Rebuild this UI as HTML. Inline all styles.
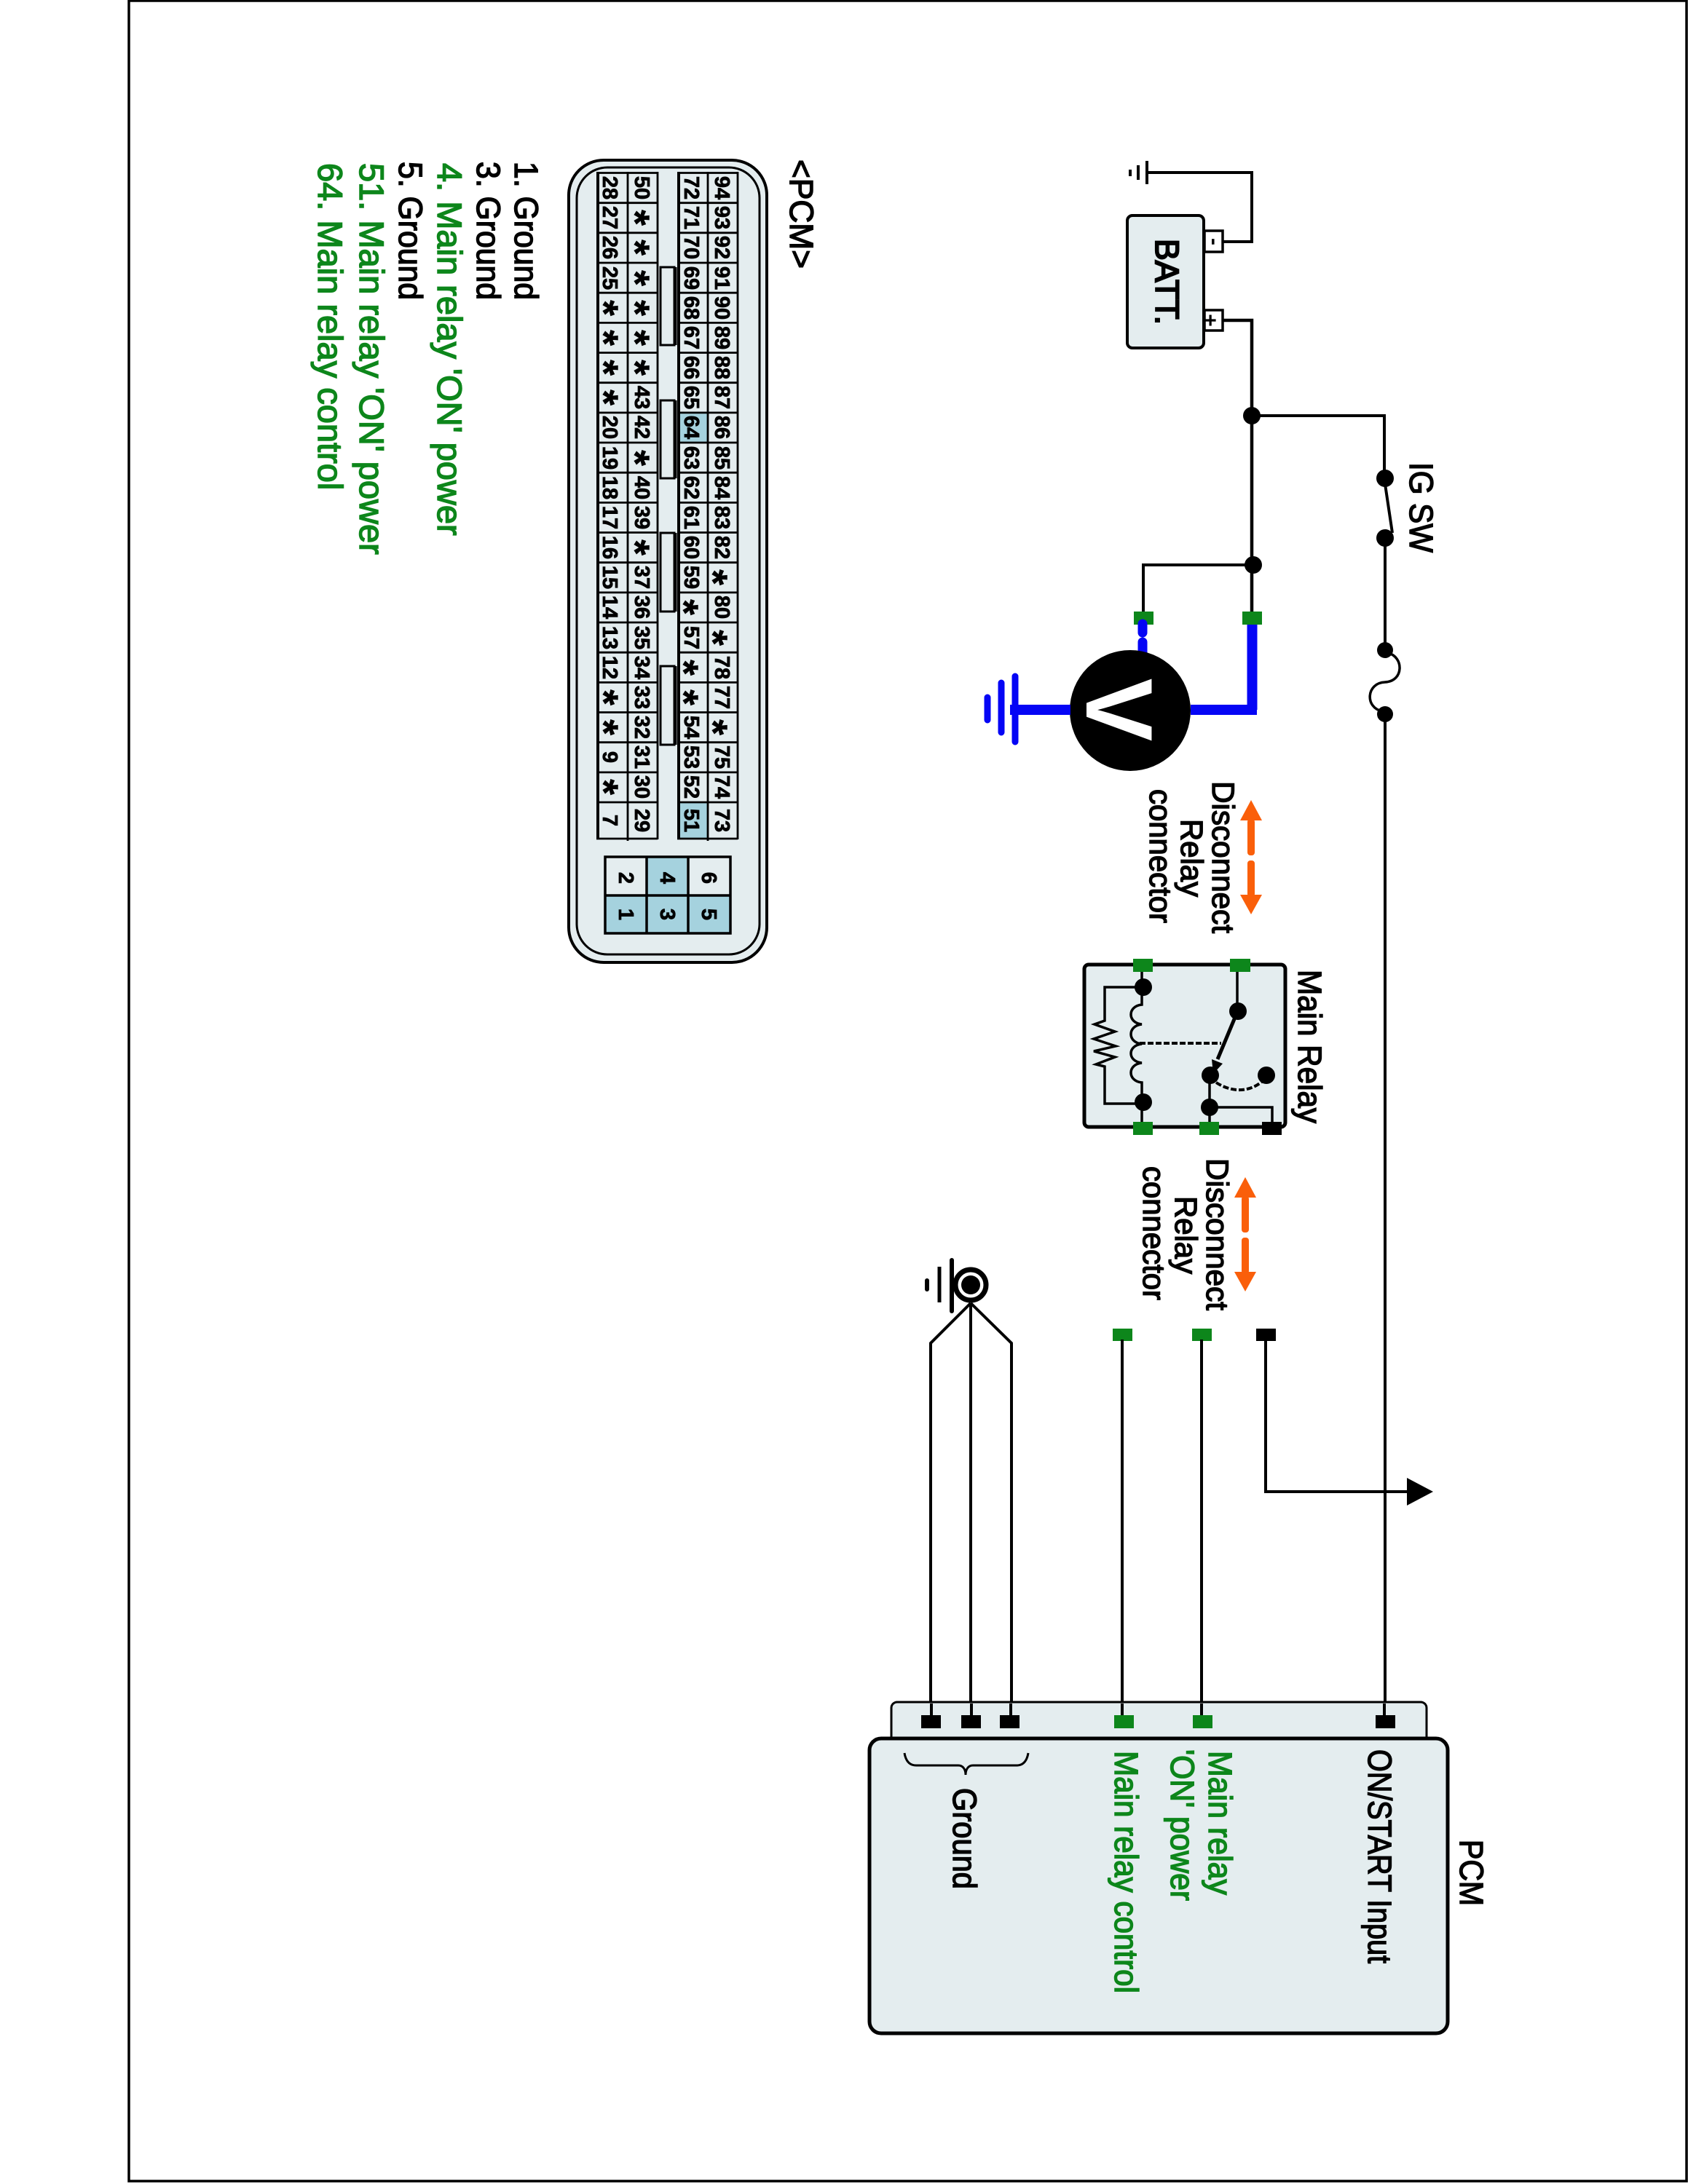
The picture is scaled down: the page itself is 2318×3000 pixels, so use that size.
<!DOCTYPE html>
<html>
<head>
<meta charset="utf-8">
<style>
html,body{margin:0;padding:0;background:#fff}
svg{display:block}
text{font-family:"Liberation Sans",Arial,sans-serif}
.b{fill:#000;stroke:#000;stroke-width:1.5}
.g{fill:#0d861b;stroke:#0d861b;stroke-width:1.5}
.p text{font-size:29px;font-weight:bold;text-anchor:middle;fill:#000;stroke:#000;stroke-width:.8}
.p text.s{font-size:56px;stroke-width:.5}
</style>
</head>
<body>
<svg xmlns="http://www.w3.org/2000/svg" width="2318" height="3000" viewBox="0 0 2318 3000">
<rect width="2318" height="3000" fill="#fff"/>
<path d="M177 1H2316V2996H177Z" fill="none" stroke="#000" stroke-width="3.5"/>

<!-- connector shell -->
<rect x="781" y="220" width="272" height="1102" rx="48" fill="#e4edef" stroke="#000" stroke-width="4"/>
<rect x="792" y="230" width="251" height="1081" rx="42" fill="#e4edef" stroke="#000" stroke-width="3"/>
<rect x="932" y="567" width="39" height="41" fill="#a5d2de"/>
<rect x="932" y="1102" width="39" height="50" fill="#a5d2de"/>
<path fill="none" stroke="#000" stroke-width="2.8" d="M819 237.5H903M930 237.5H1013M819 278.7H903M930 278.7H1013M819 319.8H903M930 319.8H1013M819 361H903M930 361H1013M819 402.2H903M930 402.2H1013M819 443.4H903M930 443.4H1013M819 484.5H903M930 484.5H1013M819 525.7H903M930 525.7H1013M819 566.9H903M930 566.9H1013M819 608H903M930 608H1013M819 649.2H903M930 649.2H1013M819 690.4H903M930 690.4H1013M819 731.5H903M930 731.5H1013M819 772.7H903M930 772.7H1013M819 813.9H903M930 813.9H1013M819 855H903M930 855H1013M819 896.2H903M930 896.2H1013M819 937.4H903M930 937.4H1013M819 978.5H903M930 978.5H1013M819 1019.7H903M930 1019.7H1013M819 1060.9H903M930 1060.9H1013M819 1102H903M930 1102H1013M819 1152H903M930 1152H1013"/>
<path fill="none" stroke="#000" stroke-width="2.8" d="M862 236V1155M903 236V1153M972 236V1155M1013 236V1153"/>
<path fill="none" stroke="#000" stroke-width="4" d="M821 236V1153M932 236V1153"/>
<!-- keys -->
<g fill="#e4edef" stroke="#000" stroke-width="3">
<rect x="907" y="367" width="19" height="107"/><rect x="907" y="550" width="19" height="107"/><rect x="907" y="732" width="19" height="108"/><rect x="907" y="915" width="19" height="108"/>
</g>
<path stroke="#000" stroke-width="5" d="M927 367V474M927 550V657M927 732V840M927 915V1023"/>
<!-- 6 pin -->
<rect x="887" y="1177" width="56" height="105" fill="#a5d2de"/>
<rect x="830" y="1230" width="173" height="52" fill="#a5d2de"/>
<path fill="none" stroke="#000" stroke-width="3.5" d="M831 1177H1003V1282H831ZM830 1230H1003M888 1177V1282M945 1177V1282"/>

<!-- battery -->
<rect x="1548" y="296" width="105" height="182" rx="7" fill="#e4edef" stroke="#000" stroke-width="4"/>
<rect x="1654" y="317" width="25" height="29" fill="#fff" stroke="#000" stroke-width="3.5"/>
<rect x="1654" y="426" width="25" height="28" fill="#fff" stroke="#000" stroke-width="3.5"/>
<path fill="none" stroke="#000" stroke-width="4" d="M1679 332H1719V237H1575"/>
<path fill="none" stroke="#000" stroke-width="4" d="M1552 233V242M1563 227V247M1575 221V253"/>
<path fill="none" stroke="#000" stroke-width="4.5" d="M1679 440H1719V840"/>
<path fill="none" stroke="#000" stroke-width="4" d="M1719 571H1901V657M1721 776H1570V840"/>
<circle cx="1719" cy="571" r="12"/><circle cx="1721" cy="776" r="12"/>
<!-- IG switch -->
<circle cx="1902" cy="657" r="12"/><circle cx="1902" cy="739" r="12"/>
<path fill="none" stroke="#000" stroke-width="4" d="M1902 665L1912 732"/>
<path fill="none" stroke="#000" stroke-width="4" d="M1902 739V893M1902 981V2360"/>
<!-- fuse -->
<circle cx="1902" cy="893" r="11"/><circle cx="1902" cy="981" r="11"/>
<path fill="none" stroke="#000" stroke-width="3.5" d="M1906 897C1928 902 1928 936 1902 937C1876 938 1874 972 1898 977"/>

<!-- meter -->
<rect x="1557" y="840" width="27" height="18" fill="#0d861b"/>
<rect x="1706" y="840" width="27" height="18" fill="#0d861b"/>
<path fill="none" stroke="#0505f5" stroke-width="13" stroke-linecap="round" d="M1569 857V869M1569 882V897"/>
<circle cx="1552" cy="976" r="83"/>
<path fill="none" stroke="#0505f5" stroke-width="14" d="M1719.5 858V975M1635 975H1726M1387 975H1470"/>
<path fill="none" stroke="#0505f5" stroke-linecap="round" stroke-width="9" d="M1394 929V1019M1375 938V1006M1356 958V989"/>

<!-- disconnect arrows -->
<g fill="#fa5f0a">
<path d="M1718 1099L1733 1127H1703Z"/><rect x="1713" y="1125" width="10" height="50" rx="4"/>
<rect x="1713" y="1182" width="10" height="50" rx="4"/><path d="M1703 1229H1733L1718 1256Z"/>
</g>
<g fill="#fa5f0a" transform="translate(-8,518)">
<path d="M1718 1099L1733 1127H1703Z"/><rect x="1713" y="1125" width="10" height="50" rx="4"/>
<rect x="1713" y="1182" width="10" height="50" rx="4"/><path d="M1703 1229H1733L1718 1256Z"/>
</g>

<!-- relay -->
<rect x="1489" y="1325" width="276" height="223" rx="6" fill="#e4edef" stroke="#000" stroke-width="5"/>
<g fill="none" stroke="#000" stroke-width="3.5">
<path d="M1568 1335V1380C1548 1382 1548 1405 1568 1407C1548 1409 1548 1432 1568 1434C1548 1436 1548 1458 1568 1460C1548 1462 1548 1485 1568 1487V1545"/>
<path d="M1568 1356H1517V1402L1503 1407L1531 1417L1502 1427L1532 1437L1502 1444L1531 1452L1505 1462L1517 1465V1516H1568"/>
<path d="M1699 1335V1389"/>
<path d="M1661 1477V1545M1661 1521H1747V1545"/>
</g>
<path fill="none" stroke="#000" stroke-width="4" stroke-dasharray="8 3" d="M1565 1433H1677"/>
<path fill="none" stroke="#000" stroke-width="4" stroke-dasharray="8 3" d="M1670 1487C1690 1500 1715 1502 1735 1484"/>
<path fill="none" stroke="#000" stroke-width="5" d="M1697 1395L1672 1455"/>
<path d="M1664 1455L1679 1461L1666 1475Z"/>
<circle cx="1570" cy="1356" r="12"/><circle cx="1570" cy="1514" r="12"/>
<circle cx="1700" cy="1389" r="12"/><circle cx="1662" cy="1477" r="12"/>
<circle cx="1739" cy="1477" r="12"/><circle cx="1661" cy="1521" r="12"/>
<g fill="#0d861b">
<rect x="1556" y="1317" width="27" height="18"/><rect x="1689" y="1317" width="28" height="18"/>
<rect x="1556" y="1541" width="27" height="18"/><rect x="1647" y="1541" width="27" height="18"/>
</g>
<rect x="1733" y="1541" width="27" height="18"/>

<!-- lower connectors and wires -->
<g fill="#0d861b"><rect x="1528" y="1825" width="27" height="17"/><rect x="1637" y="1825" width="27" height="17"/></g>
<rect x="1725" y="1825" width="27" height="17"/>
<path fill="none" stroke="#000" stroke-width="4" d="M1738 1840V2049H1935M1541 1840V2360M1650 1840V2360"/>
<path d="M1932 2030L1968 2049L1932 2068Z"/>

<!-- chassis ground -->
<circle cx="1333" cy="1765" r="21" fill="#fff" stroke="#000" stroke-width="7"/>
<circle cx="1333" cy="1765" r="13"/>
<path fill="none" stroke="#000" stroke-linecap="round" d="M1307 1731V1801" stroke-width="6"/>
<path fill="none" stroke="#000" stroke-width="5" d="M1290 1740V1789"/>
<path fill="none" stroke="#000" stroke-linecap="round" stroke-width="6" d="M1273 1759V1771"/>
<path fill="none" stroke="#000" stroke-width="4" d="M1333 1790V2360M1333 1790L1278 1845V2360M1333 1790L1389 1845V2360"/>

<!-- PCM -->
<rect x="1224" y="2338" width="735" height="60" rx="8" fill="#e4edef" stroke="#000" stroke-width="3"/>
<rect x="1194" y="2388" width="794" height="405" rx="16" fill="#e4edef" stroke="#000" stroke-width="5"/>
<path fill="none" stroke="#000" stroke-width="4" d="M1279 2340V2358M1334 2340V2358M1388 2340V2358M1541 2340V2358M1650 2340V2358M1901 2340V2358"/>
<rect x="1265" y="2356" width="27" height="18"/><rect x="1320" y="2356" width="27" height="18"/><rect x="1373" y="2356" width="27" height="18"/><rect x="1889" y="2356" width="27" height="18"/>
<g fill="#0d861b"><rect x="1530" y="2356" width="27" height="18"/><rect x="1638" y="2356" width="27" height="18"/></g>
<path fill="none" stroke="#000" stroke-width="3" d="M1242 2408C1244 2420 1250 2425 1258 2425H1316C1322 2425 1326 2430 1326 2438C1326 2430 1330 2425 1336 2425H1396C1404 2425 1410 2420 1412 2408"/>

<!-- all rotated text: x = page y, y = -(page x) -->
<g transform="rotate(90)">
<g style="font-size:45px">
<text class="b" x="222" y="-707" textLength="190" lengthAdjust="spacingAndGlyphs">1. Ground</text>
<text class="b" x="222" y="-655" textLength="190" lengthAdjust="spacingAndGlyphs">3. Ground</text>
<text class="g" x="224" y="-601" style="font-size:47px">4. Main relay 'ON' power</text>
<text class="b" x="222" y="-548" textLength="190" lengthAdjust="spacingAndGlyphs">5. Ground</text>
<text class="g" x="224" y="-494" style="font-size:47px">51. Main relay 'ON' power</text>
<text class="g" x="224" y="-437" style="font-size:47px">64. Main relay control</text>
<text class="b" x="219" y="-1085" textLength="150" lengthAdjust="spacingAndGlyphs">&lt;PCM&gt;</text>
<text class="b" x="328" y="-1587" style="font-size:45px;stroke-width:2.2" textLength="118" lengthAdjust="spacingAndGlyphs">BATT.</text>
<text class="b" x="635" y="-1936" textLength="124" lengthAdjust="spacingAndGlyphs">IG SW</text>
<text class="b" x="1332" y="-1783" textLength="211" lengthAdjust="spacingAndGlyphs">Main Relay</text>

<text class="b" x="1073" y="-1665" style="font-size:43px" textLength="209" lengthAdjust="spacingAndGlyphs">Disconnect</text>
<text class="b" x="1125" y="-1622" style="font-size:43px" textLength="107" lengthAdjust="spacingAndGlyphs">Relay</text>
<text class="b" x="1084" y="-1579" style="font-size:43px" textLength="184" lengthAdjust="spacingAndGlyphs">connector</text>
<text class="b" x="1591" y="-1657" style="font-size:43px" textLength="209" lengthAdjust="spacingAndGlyphs">Disconnect</text>
<text class="b" x="1643" y="-1614" style="font-size:43px" textLength="107" lengthAdjust="spacingAndGlyphs">Relay</text>
<text class="b" x="1602" y="-1570" style="font-size:43px" textLength="184" lengthAdjust="spacingAndGlyphs">connector</text>

<text class="b" x="2527" y="-2005" textLength="91" lengthAdjust="spacingAndGlyphs">PCM</text>
<text class="b" x="2403" y="-1879" textLength="294" lengthAdjust="spacingAndGlyphs">ON/START Input</text>
<text class="g" x="2405" y="-1660" textLength="198" lengthAdjust="spacingAndGlyphs">Main relay</text>
<text class="g" x="2403" y="-1608" textLength="208" lengthAdjust="spacingAndGlyphs">'ON' power</text>
<text class="g" x="2405" y="-1531" textLength="333" lengthAdjust="spacingAndGlyphs">Main relay control</text>
<text class="b" x="2456" y="-1309" textLength="139" lengthAdjust="spacingAndGlyphs">Ground</text>
</g>

<text x="332" y="-1658" style="font-size:30px;font-weight:bold" text-anchor="middle">-</text>
<text x="440" y="-1652" style="font-size:30px;font-weight:bold" text-anchor="middle">+</text>
<text x="975" y="-1492" style="font-size:130px;font-weight:bold" fill="#fff" text-anchor="middle">V</text>

<g class="p">
<text x="258" y="-982">94</text><text x="299" y="-982">93</text><text x="340" y="-982">92</text><text x="382" y="-982">91</text><text x="423" y="-982">90</text><text x="464" y="-982">89</text><text x="505" y="-982">88</text><text x="546" y="-982">87</text><text x="587" y="-982">86</text><text x="629" y="-982">85</text><text x="670" y="-982">84</text><text x="711" y="-982">83</text><text x="752" y="-982">82</text><text class="s" x="793" y="-960">*</text><text x="834" y="-982">80</text><text class="s" x="876" y="-960">*</text><text x="917" y="-982">78</text><text x="958" y="-982">77</text><text class="s" x="999" y="-960">*</text><text x="1040" y="-982">75</text><text x="1081" y="-982">74</text><text x="1127" y="-982">73</text>

<text x="258" y="-940">72</text><text x="299" y="-940">71</text><text x="340" y="-940">70</text><text x="382" y="-940">69</text><text x="423" y="-940">68</text><text x="464" y="-940">67</text><text x="505" y="-940">66</text><text x="546" y="-940">65</text><text x="587" y="-940">64</text><text x="629" y="-940">63</text><text x="670" y="-940">62</text><text x="711" y="-940">61</text><text x="752" y="-940">60</text><text x="793" y="-940">59</text><text class="s" x="834" y="-920">*</text><text x="876" y="-940">57</text><text class="s" x="917" y="-920">*</text><text class="s" x="958" y="-920">*</text><text x="999" y="-940">54</text><text x="1040" y="-940">53</text><text x="1081" y="-940">52</text><text x="1127" y="-940">51</text>

<text x="258" y="-872">50</text><text class="s" x="299" y="-853">*</text><text class="s" x="340" y="-853">*</text><text class="s" x="382" y="-853">*</text><text class="s" x="423" y="-853">*</text><text class="s" x="464" y="-853">*</text><text class="s" x="505" y="-853">*</text><text x="546" y="-872">43</text><text x="587" y="-872">42</text><text class="s" x="629" y="-853">*</text><text x="670" y="-872">40</text><text x="711" y="-872">39</text><text class="s" x="752" y="-853">*</text><text x="793" y="-872">37</text><text x="834" y="-872">36</text><text x="876" y="-872">35</text><text x="917" y="-872">34</text><text x="958" y="-872">33</text><text x="999" y="-872">32</text><text x="1040" y="-872">31</text><text x="1081" y="-872">30</text><text x="1127" y="-872">29</text>

<text x="258" y="-828">28</text><text x="299" y="-828">27</text><text x="340" y="-828">26</text><text x="382" y="-828">25</text><text class="s" x="423" y="-810">*</text><text class="s" x="464" y="-810">*</text><text class="s" x="505" y="-810">*</text><text class="s" x="546" y="-810">*</text><text x="587" y="-828">20</text><text x="629" y="-828">19</text><text x="670" y="-828">18</text><text x="711" y="-828">17</text><text x="752" y="-828">16</text><text x="793" y="-828">15</text><text x="834" y="-828">14</text><text x="876" y="-828">13</text><text x="917" y="-828">12</text><text class="s" x="958" y="-810">*</text><text class="s" x="999" y="-810">*</text><text x="1040" y="-828">9</text><text class="s" x="1081" y="-810">*</text><text x="1127" y="-828">7</text>

<text x="1206" y="-850">2</text><text x="1206" y="-907">4</text><text x="1206" y="-964">6</text>
<text x="1256" y="-850">1</text><text x="1256" y="-907">3</text><text x="1256" y="-964">5</text>
</g>
</g>
</svg>
</body>
</html>
